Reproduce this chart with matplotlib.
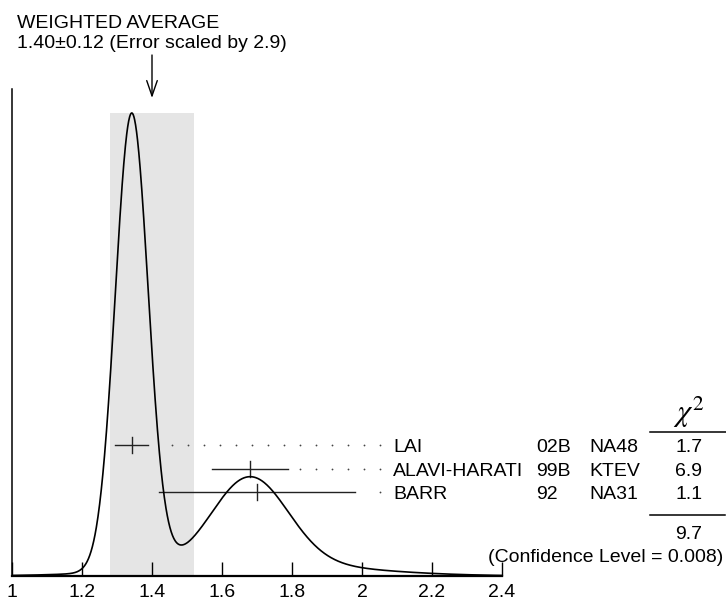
import numpy as np
import matplotlib.pyplot as plt
from matplotlib.lines import Line2D

plt.rcParams['font.family'] = ['Liberation Sans', 'DejaVu Sans']
plt.rcParams['mathtext.fontset'] = 'stix'

# measurements
authors = ["LAI", "ALAVI-HARATI", "BARR"]
years = ["02B", "99B", "92"]
experiments = ["NA48", "KTEV", "NA31"]
values = [1.342, 1.68, 1.70]
errors = [0.047, 0.108, 0.28]
chi2 = [1.7, 6.9, 1.1]
chi2_total = 9.7
conf_level = 0.008

avg = 1.40
avg_err = 0.12
scale = 2.9

xticks = [1, 1.2, 1.4, 1.6, 1.8, 2, 2.2, 2.4]

W, H = 726, 605
fig = plt.figure(figsize=(W / 100, H / 100), dpi=100)


def fx(px):
    return px / W


def fy(py):
    return 1 - py / H


# axes box laid out in pixels: x=1 at px 12, x=2.4 at px 502, baseline px 576
ax = fig.add_axes([fx(12), fy(576), 490 / W, (576 - 89) / H])
ax.set_xlim(1.0, 2.4)
ax.set_ylim(0, 1)
for s in ["top", "right"]:
    ax.spines[s].set_visible(False)
ax.spines["left"].set_linewidth(1.1)
ax.spines["bottom"].set_linewidth(1.6)
ax.set_yticks([])
ax.set_xticks(xticks)
ax.set_xticklabels([f"{t:g}" for t in xticks])
ax.tick_params(axis="x", direction="in", length=10, width=1, labelsize=14, pad=6)

# ideogram: each gaussian has area ~ 1/sigma
x = np.linspace(1.0, 2.4, 1500)
y = np.zeros_like(x)
for v, e in zip(values, errors):
    y += np.exp(-0.5 * ((x - v) / e) ** 2) / e ** 2
peak = (576 - 113) / 487
y = y / y.max() * peak

ax.fill_between([avg - avg_err, avg + avg_err], 0, peak, color="#e5e5e5", lw=0, zorder=0)
ax.plot(x, y, color="black", lw=1.2, zorder=3)

# error bars with dotted leaders
row_y0 = (576 - 445) / 487
row_dy = 23.5 / 487
dot_end = 2.051
dot_step = 16 / 350
tick_h = 8 / 487
for i, (v, e) in enumerate(zip(values, errors)):
    yy = row_y0 - i * row_dy
    ax.plot([v - e, v + e], [yy, yy], color="#222222", lw=1)
    ax.plot([v, v], [yy - tick_h, yy + tick_h], color="#222222", lw=1)
    dots = np.arange(dot_end, v + e + 10 / 350, -dot_step)
    ax.plot(dots, np.full_like(dots, yy), ls="none", marker="o", ms=1.3,
            color="#444444", mec="none")

# arrow marking the weighted average
ax.annotate("", xy=(avg, fy(98)), xycoords=("data", "figure fraction"),
            xytext=(avg, fy(55)), textcoords=("data", "figure fraction"),
            arrowprops=dict(arrowstyle="->,head_length=1.1,head_width=0.38",
                            mutation_scale=10, lw=1, color="black",
                            shrinkA=0, shrinkB=0))

fs = 14
fig.text(fx(17), fy(28), "WEIGHTED AVERAGE", fontsize=fs, va="baseline")
fig.text(fx(17), fy(48), f"{avg:.2f}\u00b1{avg_err:.2f} (Error scaled by {scale})",
         fontsize=fs, va="baseline")

# table on the right
for i in range(len(authors)):
    base = 452 + i * 23.5
    fig.text(fx(393), fy(base), authors[i], fontsize=fs, va="baseline")
    fig.text(fx(536), fy(base), years[i], fontsize=fs, va="baseline")
    fig.text(fx(589), fy(base), experiments[i], fontsize=fs, va="baseline")
    fig.text(fx(689), fy(base), f"{chi2[i]:.1f}", fontsize=fs, va="baseline", ha="center")

fig.text(fx(689), fy(430), r"$\chi^2$", fontsize=22, va="bottom", ha="center")
fig.add_artist(Line2D([fx(650), fx(726)], [fy(432), fy(432)], color="black", lw=1.1))
fig.add_artist(Line2D([fx(650), fx(725)], [fy(515), fy(515)], color="black", lw=1.1))
fig.text(fx(689), fy(539), f"{chi2_total:.1f}", fontsize=fs, va="baseline", ha="center")
fig.text(fx(723), fy(562), f"(Confidence Level = {conf_level})", fontsize=fs,
         va="baseline", ha="right")

fig.savefig("out.png", dpi=100)
